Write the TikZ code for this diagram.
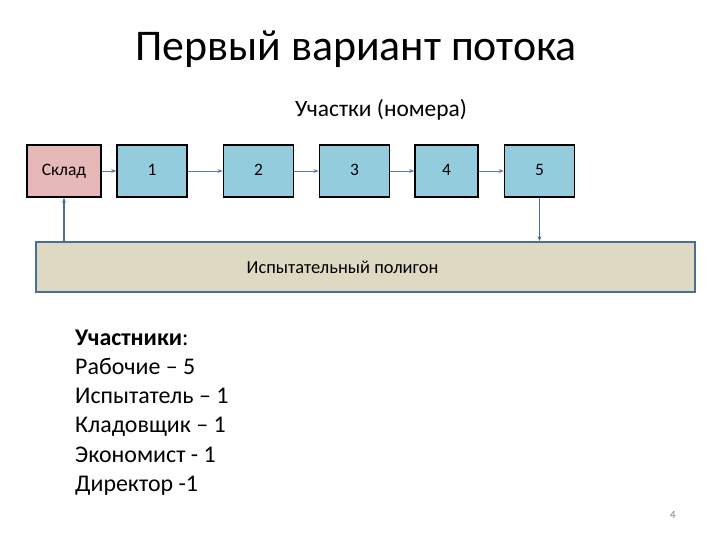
\documentclass[tikz,border=0pt]{standalone}
\usepackage{fontspec}
\setmainfont{Carlito}
\usetikzlibrary{arrows.meta}
\definecolor{pinkfill}{HTML}{E6B9B8}
\definecolor{bluefill}{HTML}{93CDDD}
\definecolor{tanfill}{HTML}{DDD9C3}
\definecolor{edgeblue}{HTML}{4A6F94}
\definecolor{arrowcol}{HTML}{5A7D9E}
\tikzset{
  stagebox/.style={draw=black, line width=1.6bp, minimum width=70bp, minimum height=52bp, inner sep=0pt, text height=10bp, text depth=0bp, font=\fontsize{17.5}{20}\selectfont},
  flowarrow/.style={draw=arrowcol, line width=0.8bp, -{Stealth[length=5bp,width=4bp]}},
  vertarrow/.style={draw=edgeblue, line width=1.4bp, -{Stealth[length=5bp,width=4bp]}},
}
\begin{document}
\begin{tikzpicture}[x=1bp, y=-1bp]
\useasboundingbox (0,0) rectangle (720,540);
\node[anchor=base, font=\fontsize{44}{48}\selectfont] (title) at (356,61) {Первый вариант потока};
\node[anchor=base, font=\fontsize{23.5}{26}\selectfont] (sub) at (381,117) {Участки (номера)};
\node[stagebox, fill=pinkfill, minimum width=74bp] (sklad) at (64,171) {Склад};
\node[stagebox, fill=bluefill] (b1) at (152,171) {1};
\node[stagebox, fill=bluefill] (b2) at (258.5,171) {2};
\node[stagebox, fill=bluefill] (b3) at (354.5,171) {3};
\node[stagebox, fill=bluefill, minimum width=63bp] (b4) at (446.5,171) {4};
\node[stagebox, fill=bluefill] (b5) at (539.5,171) {5};
\node[draw=edgeblue, fill=tanfill, line width=1.8bp, minimum width=659bp, minimum height=50bp, inner sep=0pt] (poly) at (365.5,267) {};
\node[anchor=base, font=\fontsize{18.5}{21}\selectfont] (polytext) at (342.5,274) {Испытательный полигон};
\draw[flowarrow] (sklad) -- (b1);
\draw[flowarrow] (b1) -- (b2);
\draw[flowarrow] (b2) -- (b3);
\draw[flowarrow] (b3) -- (b4);
\draw[flowarrow] (b4) -- (b5);
\draw[vertarrow] (b5.south) -- (poly.north -| b5.south);
\draw[vertarrow] (poly.north -| sklad.south) -- (sklad.south);
\node[anchor=north west, align=left, inner sep=0pt, font=\fontsize{24}{29.2}\selectfont] (list) at (75,330)
  {\textbf{Участники}:\\Рабочие – 5\\Испытатель – 1\\Кладовщик – 1\\Экономист - 1\\Директор -1};
\node[anchor=base, font=\fontsize{11}{13}\selectfont, text=gray] (page) at (673,518) {4};
\end{tikzpicture}
\end{document}
